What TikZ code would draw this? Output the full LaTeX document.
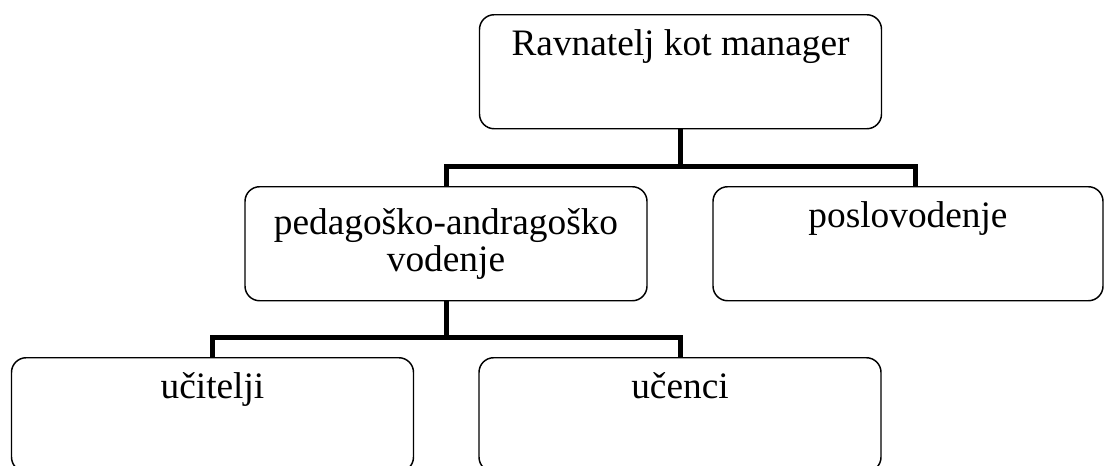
\documentclass[tikz,border=0pt]{standalone}
\usepackage{fontspec}
\setmainfont{Liberation Serif}
\begin{document}
\begin{tikzpicture}[x=0.75pt, y=-0.75pt,
  orgbox/.style={draw, line width=1.1pt, rounded corners=11pt, inner sep=0pt,
    anchor=north, minimum width=301.5pt, align=center,
    font=\fontsize{28}{28}\selectfont, text height=30.75pt, text depth=54.75pt},
  link/.style={line width=3.75pt}]
  \useasboundingbox (0,0) rectangle (1104,465);
  \node[orgbox] (head) at (680.5,14) {Ravnatelj kot manager};
  \node[orgbox, text height=63.75pt, text depth=21.75pt] (pedag) at (446,186) {pedagoško-andragoško\\vodenje};
  \node[orgbox, minimum width=292.5pt] (posl) at (908,186) {poslovodenje};
  \node[orgbox] (teach) at (212.5,357) {učitelji};
  \node[orgbox] (pupil) at (680,357) {učenci};
  \coordinate (busR) at (915,166);
  \coordinate (subbus) at (680,337);
  \draw[link] (head.south) -- (head.south |- busR);
  \draw[link] (pedag.north) |- (busR) -- (busR |- posl.north);
  \draw[link] (pedag.south) -- (pedag.south |- subbus);
  \draw[link] (teach.north) |- (subbus) -- (pupil.north);
\end{tikzpicture}
\end{document}
